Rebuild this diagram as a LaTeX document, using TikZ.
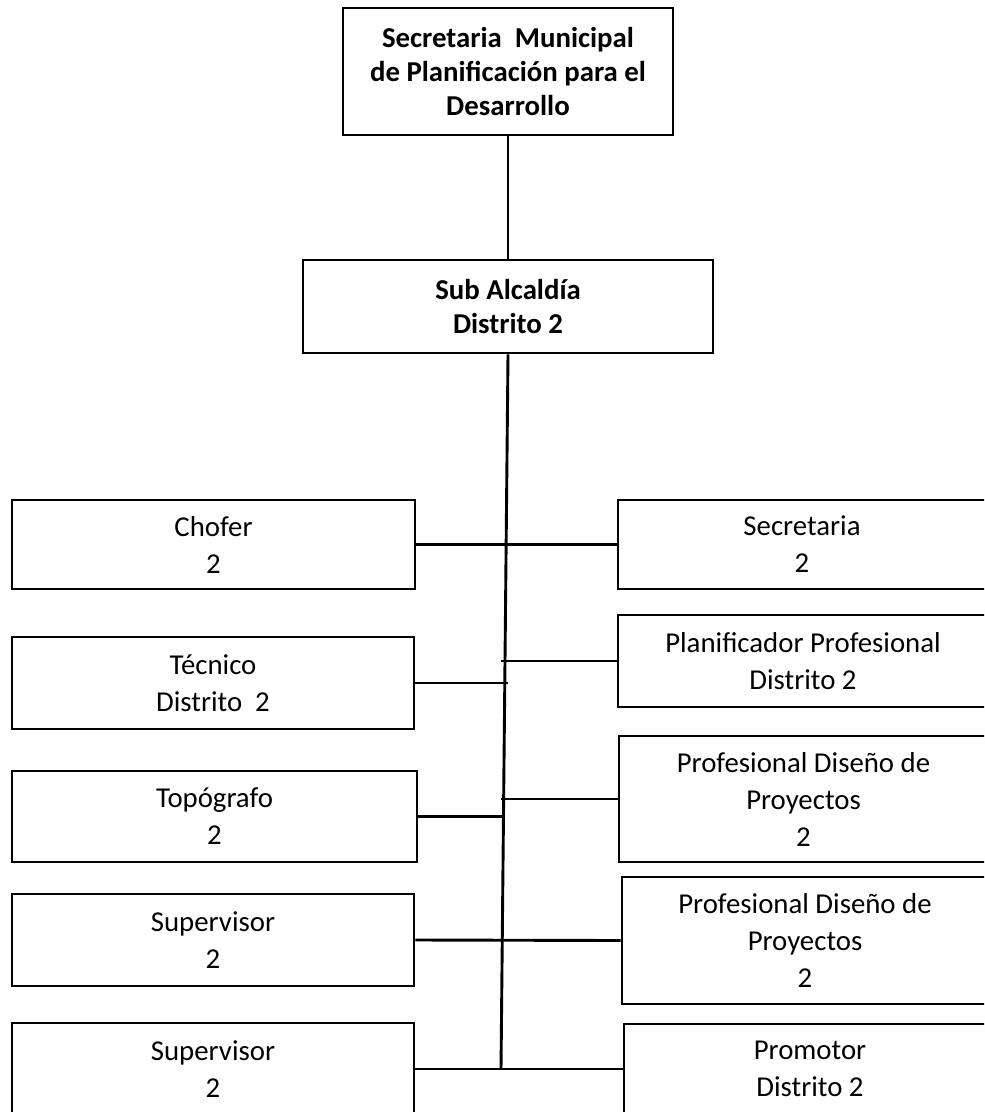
\documentclass[tikz,border=0pt]{standalone}
\usepackage{fontspec}
\setmainfont{Carlito}
\begin{document}
\begin{tikzpicture}[x=0.5pt, y=-0.5pt,
  box/.style={draw, line width=1.45pt, rectangle, align=center, inner sep=0pt,
    font=\fontsize{14.4}{18.5}\selectfont},
  headbox/.style={box, font=\fontsize{14.4}{16.8}\selectfont\bfseries},
  link/.style={draw, line width=1.45pt}]
\useasboundingbox (0,0) rectangle (984,1112);
\clip (0,0) rectangle (984,1112);

% upper hierarchy
\node[headbox, minimum width=165pt, minimum height=63.5pt] (top) at (508,71.5)
  {\raisebox{-2.5pt}{\shortstack{Secretaria\ \ Municipal\\[1.4pt]de Planificación para el\\[1.4pt]Desarrollo}}};
\node[headbox, minimum width=205pt, minimum height=46.5pt] (sub) at (508,306.5)
  {Sub Alcaldía\\Distrito 2};

% left column
\node[box, minimum width=201.5pt, minimum height=44.5pt] (chofer) at (213.5,544.5) {Chofer\\2};
\node[box, minimum width=201pt, minimum height=46pt] (tecnico) at (213,683) {Técnico\\Distrito\ \ 2};
\node[box, minimum width=202.5pt, minimum height=45.5pt] (topografo) at (214.5,816.5) {Topógrafo\\2};
\node[box, minimum width=201pt, minimum height=46pt] (supervisorA) at (213,940) {Supervisor\\2};
\node[box, minimum width=201pt, minimum height=46pt] (supervisorB) at (213,1069) {Supervisor\\2};

% right column
\node[box, minimum width=184pt, minimum height=44.5pt] (secretaria) at (802,544.5) {Secretaria\\2};
\node[box, minimum width=185pt, minimum height=46pt] (planificador) at (803,661) {Planificador Profesional\\Distrito 2};
\node[box, minimum width=184.5pt, minimum height=63pt] (disenoA) at (803.5,799) {Profesional Diseño de\\Proyectos\\2};
\node[box, minimum width=183pt, minimum height=63.5pt] (disenoB) at (805,940.5) {Profesional Diseño de\\Proyectos\\2};
\node[box, minimum width=186pt, minimum height=45pt] (promotor) at (810,1069) {Promotor\\Distrito 2};

% trunk
\coordinate (trunkend) at (501,1069);
\draw[link] (top.south) -- (sub.north);
\draw[link] (sub.south) -- (trunkend);

% branches
\draw[link] (chofer.east) -- (secretaria.west);
\draw[link] (tecnico.east) -- ++(93,0);
\draw[link] (planificador.west) -- ++(-116,0);
\draw[link] (topografo.east) -- ++(86,0);
\draw[link] (disenoA.west) -- ++(-117,0);
\draw[link] (supervisorA.east) -- (disenoB.west);
\draw[link] (supervisorB.east) -- (promotor.west);
\end{tikzpicture}
\end{document}
